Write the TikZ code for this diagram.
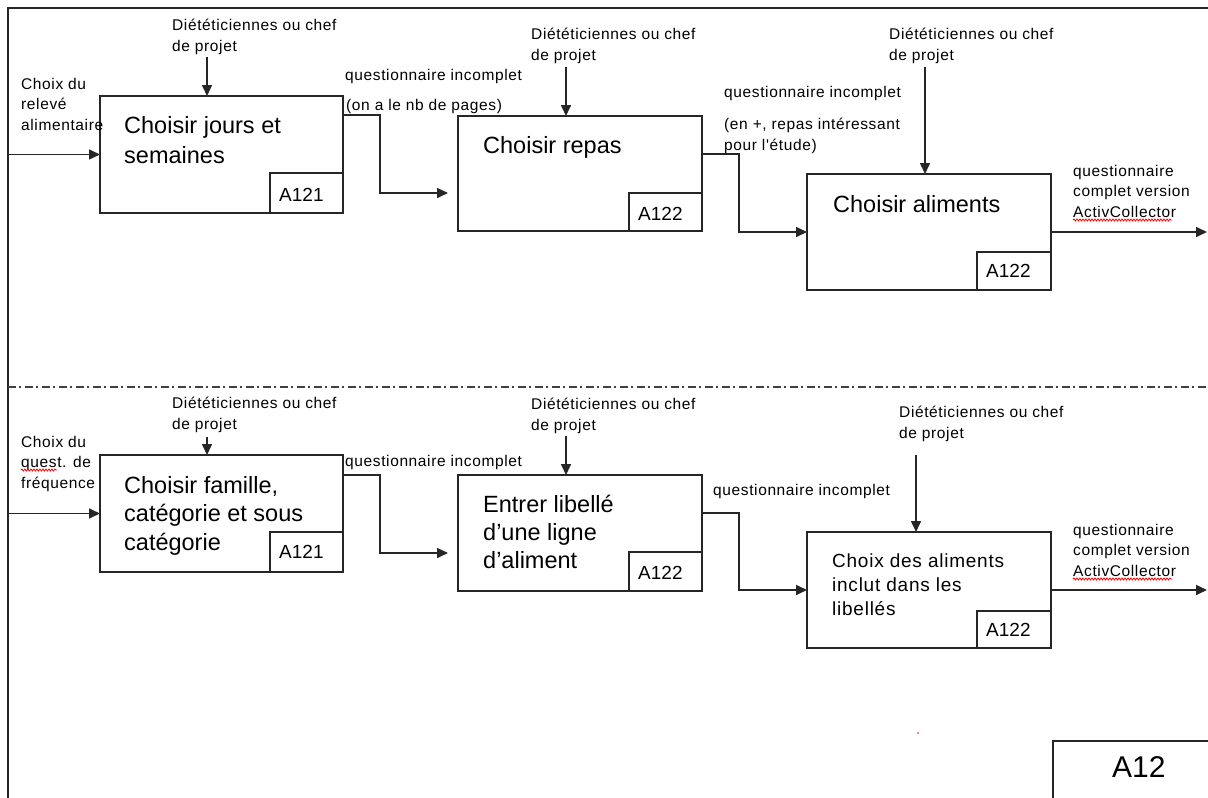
\documentclass[tikz,border=0pt]{standalone}
\usepackage{fontspec}
\setmainfont{Liberation Sans}
\newfontfamily\lblfont[LetterSpace=4]{Liberation Sans}
\usetikzlibrary{arrows.meta,decorations.pathmorphing}

% multi-line text nodes are anchored on the baseline of their last line
\tikzset{
  ink/.style={line width=1.6pt, draw=black!85},
  arr/.style={ink, -{Triangle[length=11pt,width=10pt]}},
  procbox/.style={ink, rectangle, anchor=north west, inner sep=0pt, outer sep=0pt},
  codebox/.style={ink, rectangle, anchor=south east, inner sep=0pt, outer sep=0pt},
  lbl/.style={anchor=base west, inner sep=0pt, align=left, font=\lblfont\fontsize{15.5}{20.5}\selectfont},
  ptitle/.style={anchor=base west, inner sep=0pt, align=left, font=\fontsize{23.5}{28.5}\selectfont},
  codetxt/.style={anchor=base west, inner sep=0pt, font=\fontsize{19}{23}\selectfont},
  spell/.style={draw=red, line width=0.8pt, decorate, decoration={snake, amplitude=1pt, segment length=3pt}},
  frame/.style={line width=1.8pt, draw=black!85},
  splitline/.style={line width=1.1pt, draw=black!75, dash pattern=on 8pt off 3pt on 2pt off 4pt},
}

\begin{document}
\begin{tikzpicture}[x=1pt, y=-1pt]
\useasboundingbox (0,0) rectangle (1208,798);

% outer frame and separator between the two variants
\draw[frame] (8,798) -- (8,8) -- (1208,8);
\draw[splitline] (8,387) -- (1208,387);

% ---------- upper chain: relevé alimentaire ----------
\node[procbox, minimum width=243pt, minimum height=117pt] (b1) at (100,96) {};
\node[codebox, minimum width=73pt, minimum height=40pt] (k1) at (b1.south east) {};
\node[ptitle, font=\fontsize{23.5}{30}\selectfont] (t1) at (124,163) {Choisir jours et\\semaines};
\node[codetxt] (k1t) at (279,201) {A121};

\node[procbox, minimum width=244pt, minimum height=115pt] (b2) at (458,116) {};
\node[codebox, minimum width=73pt, minimum height=38pt] (k2) at (b2.south east) {};
\node[ptitle] (t2) at (483,153) {Choisir repas};
\node[codetxt] (k2t) at (638,220) {A122};

\node[procbox, minimum width=244pt, minimum height=116pt] (b3) at (807,174) {};
\node[codebox, minimum width=74pt, minimum height=38pt] (k3) at (b3.south east) {};
\node[ptitle] (t3) at (833,212) {Choisir aliments};
\node[codetxt] (k3t) at (986,277) {A122};

% controls
\node[lbl] (c1) at (172,51) {Diététiciennes ou chef\\de projet};
\coordinate (c1s) at (207,57);
\draw[arr] (c1s) -- (c1s |- b1.north);
\node[lbl] (c2) at (531,60) {Diététiciennes ou chef\\de projet};
\coordinate (c2s) at (566,67);
\draw[arr] (c2s) -- (c2s |- b2.north);
\node[lbl] (c3) at (889,60) {Diététiciennes ou chef\\de projet};
\coordinate (c3s) at (925,67);
\draw[arr] (c3s) -- (c3s |- b3.north);

% input
\node[lbl] (i1) at (21,130) {Choix du\\relevé\\alimentaire};
\coordinate (i1s) at (8,0);
\draw[arr] (i1s |- b1.west) -- (b1.west);

% flows
\draw[arr, shorten >=10pt] ([yshift=-19pt]b1.north east) -- ++(37,0) |- ([yshift=38pt]b2.south west);
\node[lbl] (q12) at (345,80) {questionnaire incomplet};
\node[lbl] (q12b) at (346,110) {(on a le nb de pages)};

\draw[arr] ([yshift=-38pt]b2.north east) -- ++(37,0) |- (b3.west);
\node[lbl] (q23) at (724,97) {questionnaire incomplet};
\node[lbl, font=\lblfont\fontsize{15.5}{21}\selectfont] (q23b) at (724,150) {(en +, repas intéressant\\pour l'étude)};

\coordinate (o3e) at (1207,0);
\draw[arr] (b3.east) -- (o3e |- b3.east);
\node[lbl] (o3) at (1073,217) {questionnaire\\complet version\\ActivCollector};
\draw[spell] (1073,220) -- (1172,220);

% ---------- lower chain: questionnaire de fréquence ----------
\node[procbox, minimum width=243pt, minimum height=117pt] (b4) at (100,455) {};
\node[codebox, minimum width=73pt, minimum height=40pt] (k4) at (b4.south east) {};
\node[ptitle] (t4) at (124,550) {Choisir famille,\\catégorie et sous\\catégorie};
\node[codetxt] (k4t) at (279,558) {A121};

\node[procbox, minimum width=244pt, minimum height=116pt] (b5) at (458,475) {};
\node[codebox, minimum width=73pt, minimum height=39pt] (k5) at (b5.south east) {};
\node[ptitle, font=\fontsize{23.5}{28}\selectfont] (t5) at (483,568) {Entrer libellé\\d’une ligne\\d’aliment};
\node[codetxt] (k5t) at (638,579) {A122};

\node[procbox, minimum width=244pt, minimum height=116pt] (b6) at (807,532) {};
\node[codebox, minimum width=74pt, minimum height=37pt] (k6) at (b6.south east) {};
\node[ptitle, font=\lblfont\fontsize{19}{24}\selectfont] (t6) at (832,615) {Choix des aliments\\inclut dans les\\libellés};
\node[codetxt] (k6t) at (986,636) {A122};

% controls
\node[lbl] (c4) at (172,429) {Diététiciennes ou chef\\de projet};
\coordinate (c4s) at (207,437);
\draw[arr] (c4s) -- (c4s |- b4.north);
\node[lbl] (c5) at (531,430) {Diététiciennes ou chef\\de projet};
\coordinate (c5s) at (566,436);
\draw[arr] (c5s) -- (c5s |- b5.north);
\node[lbl] (c6) at (899,438) {Diététiciennes ou chef\\de projet};
\coordinate (c6s) at (916,455);
\draw[arr] (c6s) -- (c6s |- b6.north);

% input
\node[lbl] (i4) at (21,488) {Choix du\\quest. de\\fréquence};
\draw[spell] (21,470) -- (57,470);
\draw[arr] (i1s |- b4.west) -- (b4.west);

% flows
\draw[arr, shorten >=10pt] ([yshift=-20pt]b4.north east) -- ++(37,0) |- ([yshift=38pt]b5.south west);
\node[lbl] (q45) at (345,466) {questionnaire incomplet};

\draw[arr] ([yshift=-38pt]b5.north east) -- ++(37,0) |- (b6.west);
\node[lbl] (q56) at (713,495) {questionnaire incomplet};

\draw[arr] (b6.east) -- (o3e |- b6.east);
\node[lbl] (o6) at (1073,576) {questionnaire\\complet version\\ActivCollector};
\draw[spell] (1073,579) -- (1172,579);

% diagram number
\draw[ink] (1053,798) -- (1053,741) -- (1208,741);
\node[anchor=base west, inner sep=0pt, font=\fontsize{30}{36}\selectfont] (a12) at (1112,777) {A12};
\fill[red] (918,733) circle (0.8pt);
\end{tikzpicture}
\end{document}
